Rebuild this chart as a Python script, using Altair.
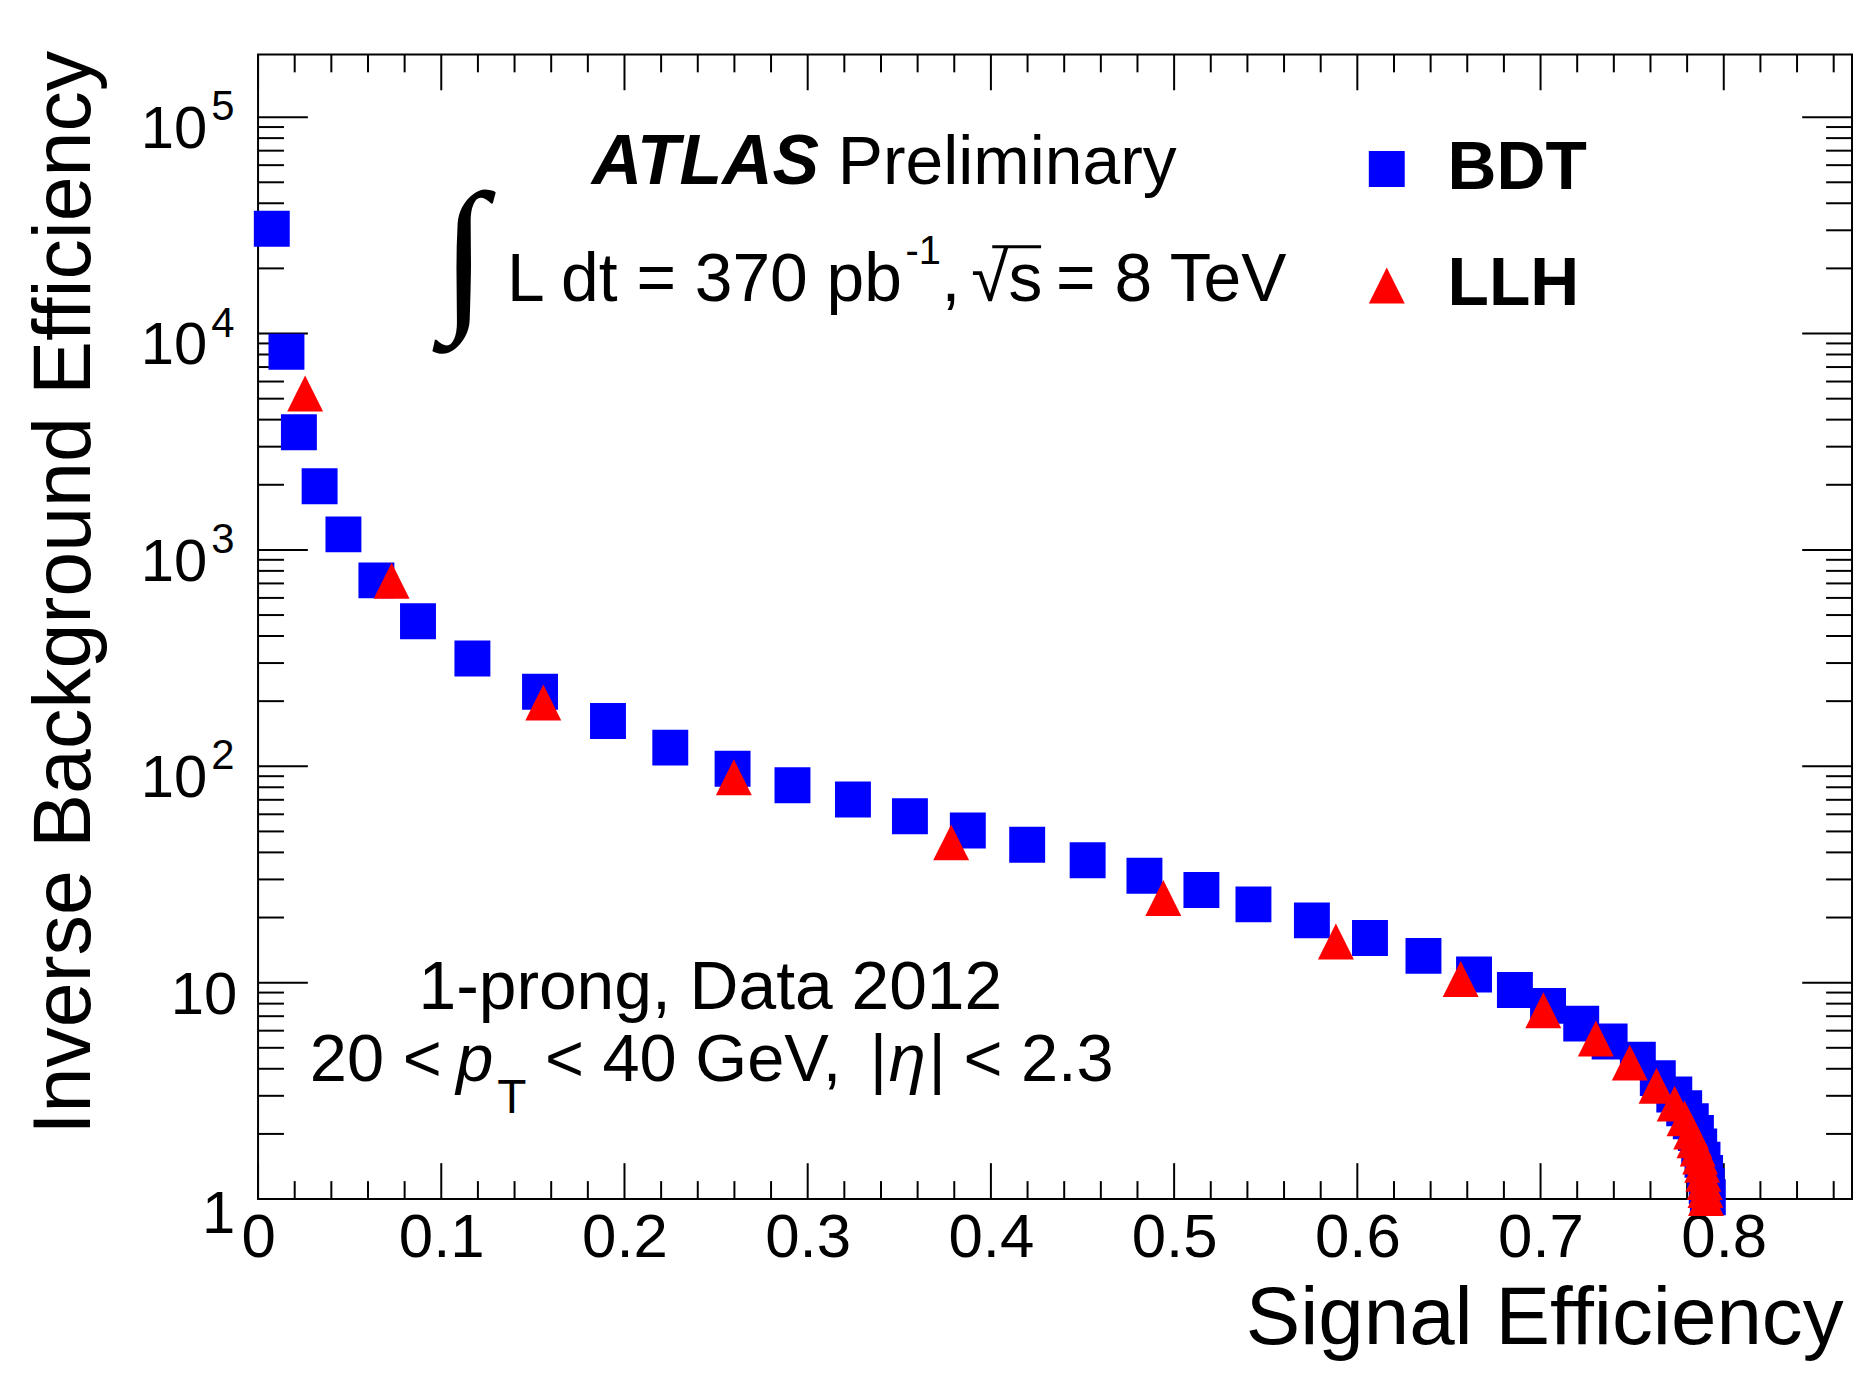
import altair as alt
import pandas as pd

# ---------------- data ----------------
bdt_eff = [0.0075, 0.0155, 0.0223, 0.0336, 0.0466, 0.0646, 0.0873, 0.117, 0.1539, 0.191,
           0.225, 0.259, 0.2917, 0.3247, 0.3558, 0.3874, 0.4198, 0.4528, 0.4838, 0.5149,
           0.5433, 0.5752, 0.6069, 0.6361, 0.6637, 0.686, 0.7041, 0.7222, 0.7377, 0.7531,
           0.764, 0.773, 0.7784, 0.782, 0.7848, 0.7866, 0.7884, 0.7898, 0.7907, 0.7913]
bdt_inv = [30500, 8240, 3500, 1970, 1180, 723, 468, 315, 221, 162,
           122, 97.5, 81.7, 70.2, 58.8, 50.5, 43.4, 36.8, 31.2, 26.8,
           23.0, 19.4, 16.1, 13.3, 10.9, 9.25, 7.81, 6.47, 5.35, 4.40,
           3.62, 3.04, 2.63, 2.29, 2.02, 1.75, 1.52, 1.32, 1.15, 1.02]

llh_eff = [0.0257, 0.0729, 0.1557, 0.2597, 0.3783, 0.4941, 0.5883, 0.6564, 0.7015, 0.7302,
           0.7487, 0.7633, 0.7732, 0.7786, 0.7822, 0.784, 0.7858, 0.7871, 0.7882, 0.7889,
           0.7896, 0.79, 0.7903]
llh_inv = [5280, 720, 197, 89, 44.5, 24.6, 15.5, 10.4, 7.46, 5.52,
           4.27, 3.34, 2.76, 2.36, 2.05, 1.87, 1.71, 1.57, 1.44, 1.31,
           1.20, 1.10, 1.01]

methods = ["BDT", "LLH"]
method_colors = ["#0000ff", "#ff0000"]

# axis ticks and labels
x_major = [0.0, 0.1, 0.2, 0.3, 0.4, 0.5, 0.6, 0.7, 0.8]
x_minor = [0.02, 0.04, 0.06, 0.08, 0.12, 0.14, 0.16, 0.18, 0.22, 0.24, 0.26, 0.28,
           0.32, 0.34, 0.36, 0.38, 0.42, 0.44, 0.46, 0.48, 0.52, 0.54, 0.56, 0.58,
           0.62, 0.64, 0.66, 0.68, 0.72, 0.74, 0.76, 0.78, 0.82, 0.84, 0.86]
y_major = [1, 10, 100, 1000, 10000, 100000]
y_minor = [2, 3, 4, 5, 6, 7, 8, 9,
           20, 30, 40, 50, 60, 70, 80, 90,
           200, 300, 400, 500, 600, 700, 800, 900,
           2000, 3000, 4000, 5000, 6000, 7000, 8000, 9000,
           20000, 30000, 40000, 50000, 60000, 70000, 80000, 90000]
y_exp_vals = [100, 1000, 10000, 100000]
y_exp_text = ["2", "3", "4", "5"]

# ---------------- layout ----------------
W, H = 1600, 1149
FONT = "Liberation Sans, Arial, Helvetica, sans-serif"
XMAJ, XMIN = 36, 18
YMAJ, YMIN = 50, 26

xscale = alt.Scale(domain=[0, 0.87], nice=False, zero=False)
yscale = alt.Scale(type="log", domain=[1, 1.95e5], nice=False)

df = pd.DataFrame({
    "eff": bdt_eff + llh_eff,
    "inv": bdt_inv + llh_inv,
    "method": ["BDT"] * len(bdt_eff) + ["LLH"] * len(llh_eff),
})

TRI = "M0,-1L1,1L-1,1Z"
leg = alt.Legend(
    orient="none", legendX=1099, legendY=81, title=None,
    labelFont=FONT, labelFontSize=68, labelFontWeight="bold", labelColor="black",
    symbolSize=1300, symbolStrokeWidth=0, labelOffset=27, rowPadding=49,
    padding=0, labelBaseline="middle", symbolOpacity=1,
)

points = alt.Chart(df).mark_point(filled=True, size=1300, opacity=1, strokeWidth=0).encode(
    x=alt.X("eff:Q", scale=xscale, axis=alt.Axis(
        values=x_major, ticks=False, tickSize=0, domain=False, grid=False,
        labelExpr="datum.value == 0 ? '0' : format(datum.value, '.1f')",
        labelFont=FONT, labelFontSize=62, labelPadding=9, labelColor="black",
        labelFlush=False, labelOverlap=False, labelBound=False,
        title="Signal Efficiency", titleFont=FONT, titleFontSize=82,
        titleFontWeight="normal", titleColor="black", titleAnchor="end",
        titleAlign="right", titleBaseline="alphabetic", titleX=W - 9, titleY=145)),
    y=alt.Y("inv:Q", scale=yscale, axis=alt.Axis(
        labels=False, ticks=False, tickSize=0, domain=False, grid=False,
        title="Inverse Background Efficiency", titleFont=FONT, titleFontSize=81,
        titleFontWeight="normal", titleColor="black", titleAngle=270,
        titleAlign="right", titleBaseline="alphabetic", titleX=-169, titleY=-4)),
    color=alt.Color("method:N", scale=alt.Scale(domain=methods, range=method_colors), legend=leg),
    shape=alt.Shape("method:N", scale=alt.Scale(domain=methods, range=["square", TRI]), legend=leg),
    order=alt.Order("method:N"),
)


def xticks(vals, length, top):
    d = pd.DataFrame({"eff": vals})
    if top:
        yy, yy2 = alt.value(0), alt.value(length)
    else:
        yy, yy2 = alt.value(H), alt.value(H - length)
    return alt.Chart(d).mark_rule(color="black", strokeWidth=2).encode(
        x=alt.X("eff:Q", scale=xscale, axis=None), y=yy, y2=yy2)


def yticks(vals, length, right):
    d = pd.DataFrame({"inv": vals})
    if right:
        xx, xx2 = alt.value(W), alt.value(W - length)
    else:
        xx, xx2 = alt.value(0), alt.value(length)
    return alt.Chart(d).mark_rule(color="black", strokeWidth=2).encode(
        y=alt.Y("inv:Q", scale=yscale, axis=None), x=xx, x2=xx2)


tick_layers = [
    xticks(x_major, XMAJ, False), xticks(x_minor, XMIN, False),
    xticks(x_major, XMAJ, True), xticks(x_minor, XMIN, True),
    yticks(y_major, YMAJ, False), yticks(y_minor, YMIN, False),
    yticks(y_major, YMAJ, True), yticks(y_minor, YMIN, True),
]

# y tick labels: 10^n written as "10" + raised exponent
ylab = pd.DataFrame({"inv": y_exp_vals, "sup": y_exp_text})
ylab_base = alt.Chart(ylab).mark_text(
    text="10", align="right", baseline="alphabetic", font=FONT, fontSize=60, dy=31, color="black"
).encode(y=alt.Y("inv:Q", scale=yscale, axis=None), x=alt.value(-51))
ylab_sup = alt.Chart(ylab).mark_text(
    align="left", baseline="alphabetic", font=FONT, fontSize=42, dy=3, color="black"
).encode(y=alt.Y("inv:Q", scale=yscale, axis=None), x=alt.value(-47), text="sup:N")
ylab_ten = alt.Chart(pd.DataFrame({"inv": [10]})).mark_text(
    text="10", align="right", baseline="alphabetic", font=FONT, fontSize=60, dy=31, color="black"
).encode(y=alt.Y("inv:Q", scale=yscale, axis=None), x=alt.value(-21))
ylab_one = alt.Chart(pd.DataFrame({"inv": [1]})).mark_text(
    text="1", align="right", baseline="alphabetic", font=FONT, fontSize=60, dy=34, color="black"
).encode(y=alt.Y("inv:Q", scale=yscale, axis=None), x=alt.value(-23))

one = pd.DataFrame({"k": [0]})


def label(txt, x, y, size=66, weight="normal", style="normal", align="left",
          baseline="alphabetic", font=FONT):
    return alt.Chart(one).mark_text(
        text=txt, align=align, baseline=baseline, font=font, fontSize=size,
        fontWeight=weight, fontStyle=style, color="black"
    ).encode(x=alt.value(x), y=alt.value(y))


texts = [
    label("ATLAS", 335, 130, 70, weight="bold", style="italic"),
    label("Preliminary", 582, 130, 68),
    label("\u222b", 207, 206, 168, align="center", baseline="middle",
          font="Liberation Serif, DejaVu Serif, serif"),
    label("L dt = 370 pb", 250, 248, 68),
    label("-1", 650, 210, 40),
    label(",", 686, 248, 68),
    label("\u221as", 716, 248, 68),
    label("= 8 TeV", 801, 248, 68),
    label("1-prong, Data 2012", 454, 958, 68, align="center"),
    label("20 <", 52, 1030, 67),
    label("p", 199, 1030, 67, style="italic"),
    label("T", 240, 1063, 48),
    label("< 40 GeV,", 288, 1030, 67),
    label("|", 614, 1030, 67),
    label("\u03b7", 633, 1030, 67, style="italic"),
    label("|", 673, 1030, 67),
    label("< 2.3", 708, 1030, 67),
]

overline = alt.Chart(one).mark_rule(color="black", strokeWidth=3).encode(
    x=alt.value(737), x2=alt.value(786), y=alt.value(193))

chart = alt.layer(
    *tick_layers, points, ylab_base, ylab_sup, ylab_ten, ylab_one, *texts, overline
).resolve_axis(
    x="independent", y="independent"
).properties(
    width=W, height=H,
    autosize=alt.AutoSizeParams(type="none"),
    padding={"left": 251, "top": 44, "right": 3, "bottom": 162},
    background="white",
).configure_view(stroke="black", strokeWidth=2)

chart.save("out.html", embed_options={"renderer": "svg", "actions": False})
